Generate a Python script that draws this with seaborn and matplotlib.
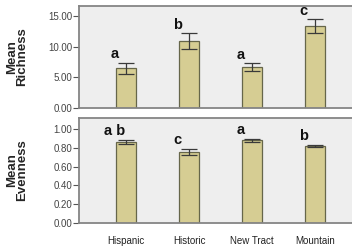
import matplotlib
matplotlib.use("Agg")
import matplotlib.pyplot as plt
import seaborn as sns
import pandas as pd

sites = ["Hispanic", "Historic", "New Tract", "Mountain"]
richness = [6.5, 10.9, 6.7, 13.35]
richness_err = [0.9, 1.3, 0.65, 1.15]
richness_letters = ["a", "b", "a", "c"]
evenness = [0.86, 0.755, 0.88, 0.82]
evenness_err = [0.02, 0.035, 0.015, 0.012]
evenness_letters = ["a b", "c", "a", "b"]

sns.set_theme(style="white")
plt.rcParams["font.family"] = ["Liberation Sans", "DejaVu Sans"]

bar_color = "#d6cd93"
edge_color = "#66664a"
frame_color = "#858585"

fig = plt.figure(figsize=(3.52, 2.48), dpi=100)
ax_top = fig.add_axes([79 / 352, 140 / 248, 283.5 / 352, 102 / 248])
ax_bot = fig.add_axes([79 / 352, 25 / 248, 283.5 / 352, 105 / 248])


def draw_panel(ax, values, errs, letters, ylim, ticks, label, letter_gap):
    df = pd.DataFrame({"site": sites, "value": values})
    sns.barplot(data=df, x="site", y="value", ax=ax, color=bar_color,
                edgecolor=edge_color, linewidth=0.9, width=0.32, saturation=1)
    ax.errorbar(range(len(sites)), values, yerr=errs, fmt="none",
                ecolor="#3a3a3a", elinewidth=0.9, capsize=6, capthick=0.9)
    for i, (v, e, t) in enumerate(zip(values, errs, letters)):
        ax.text(i - 0.18, v + e + letter_gap, t, ha="center", va="bottom",
                fontsize=10.5, fontweight="bold", color="#111111")
    ax.set_facecolor("#eeeeee")
    ax.set_xlim(-0.75, 3.75)
    ax.set_ylim(*ylim)
    ax.set_yticks(ticks)
    ax.set_yticklabels([f"{t:.2f}" for t in ticks])
    ax.set_ylabel(label, fontsize=9.5, fontweight="bold", linespacing=0.85)
    ax.yaxis.set_label_coords(-0.178, 0.5)
    ax.set_xlabel("")
    for s in ax.spines.values():
        s.set_color(frame_color)
        s.set_linewidth(1.3)
    ax.tick_params(axis="y", direction="out", length=4, width=0.8,
                   color="#555555", labelsize=7, labelcolor="#444444", pad=1, left=True)


draw_panel(ax_top, richness, richness_err, richness_letters,
           (0, 16.6), [0, 5, 10, 15], "Mean\nRichness", 0.2)
draw_panel(ax_bot, evenness, evenness_err, evenness_letters,
           (0, 1.117), [0, 0.2, 0.4, 0.6, 0.8, 1.0], "Mean\nEvenness", 0.02)

ax_top.set_xticklabels([])
ax_top.tick_params(axis="x", length=0)
ax_bot.tick_params(axis="x", length=0, labelsize=7, labelcolor="#222222", pad=9)

fig.savefig("out.png", dpi=100)
plt.close(fig)
